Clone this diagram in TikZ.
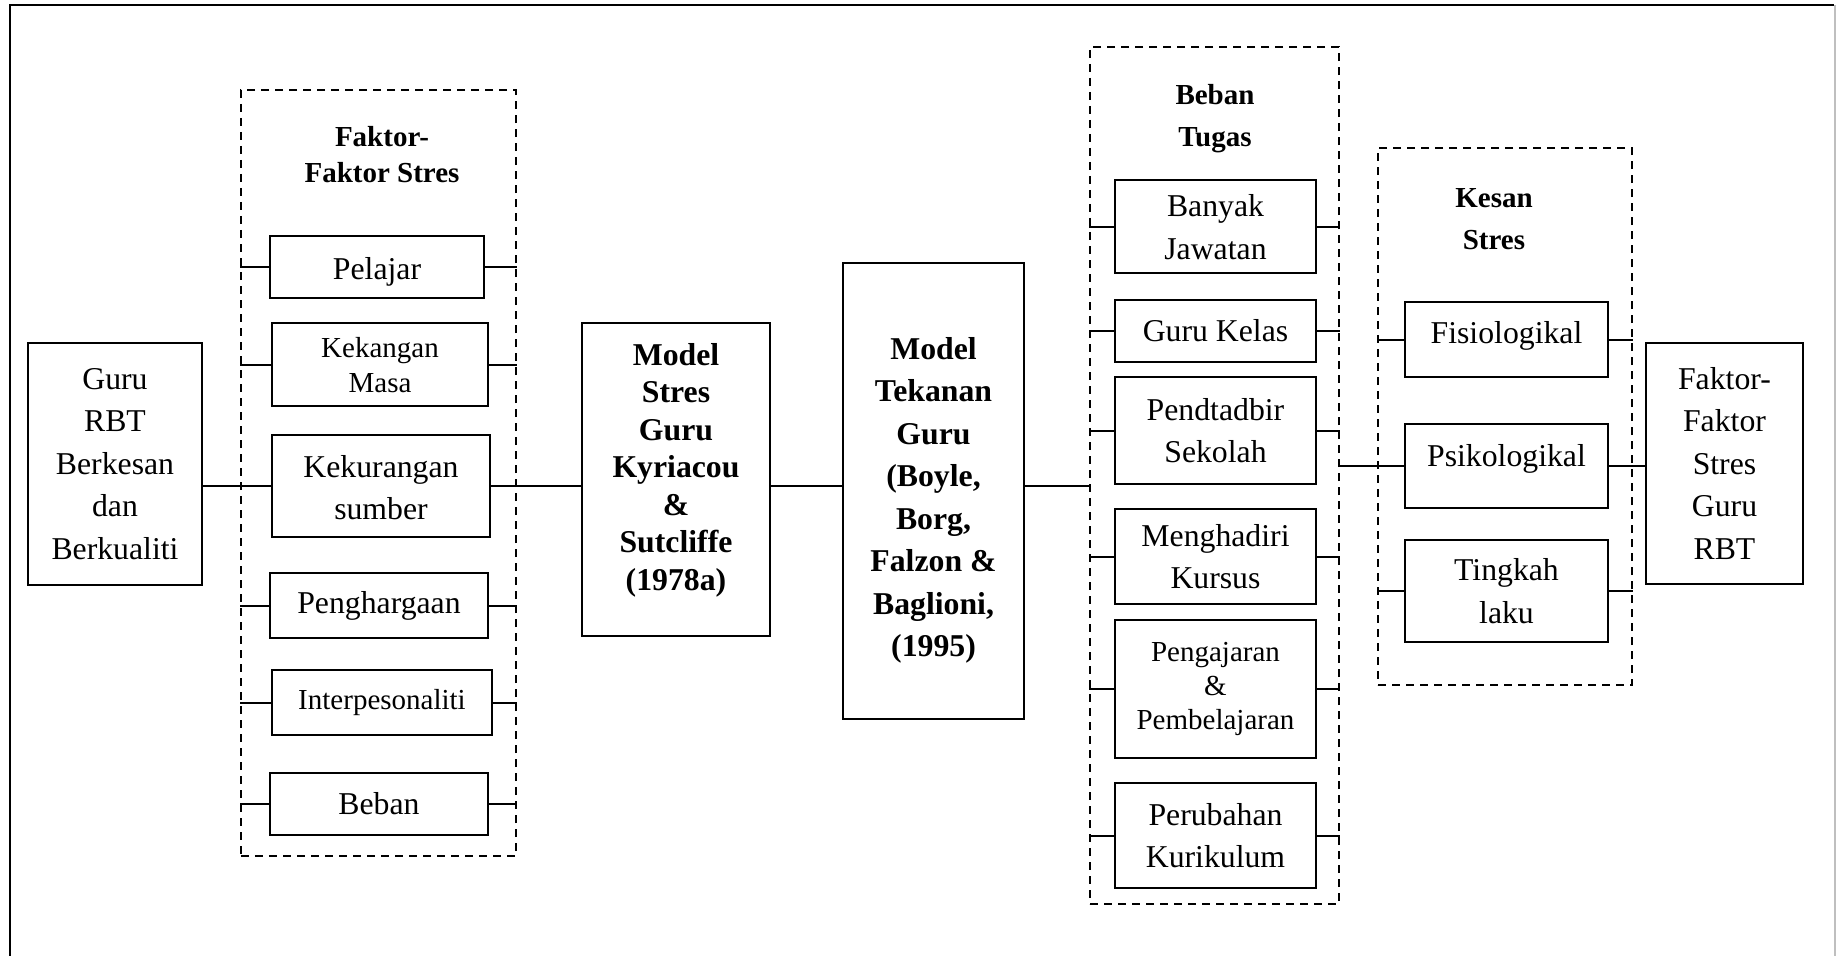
\documentclass[tikz,border=0pt]{standalone}
\usepackage{fontspec}
\setmainfont{Liberation Serif}
\newcommand{\shiftlines}[2]{\raisebox{#1}[\height][\depth]{\begin{tabular}{@{}c@{}}#2\end{tabular}}}
\tikzset{box/.style={draw, line width=0.8pt, align=center, inner sep=0pt,
        font=\fontsize{12.7}{17}\selectfont}}
\tikzset{sbox/.style={box, font=\fontsize{11.6}{14}\selectfont}}
\tikzset{mbox/.style={box, font=\fontsize{12.7}{17}\selectfont\bfseries}}
\tikzset{group/.style={draw, line width=0.5pt, dash pattern=on 3.2pt off 2.4pt, inner sep=0pt}}
\tikzset{title/.style={align=center, inner sep=0pt, font=\fontsize{11.6}{16.8}\selectfont\bfseries}}
\tikzset{edge/.style={line width=0.8pt}}

\begin{document}
\begin{tikzpicture}[x=0.4pt, y=-0.4pt]%{{{
        \useasboundingbox (0,0) rectangle (1836,955);
        \draw [line width=1pt] (10,965) -- (10,5) -- (1834,5);
        \draw [gray!50, line width=0.8pt] (1835,5) -- (1835,965);

        \node[box, minimum width=69.6pt, minimum height=96.8pt] (Gin) at (115, 464)
        {Guru\\RBT\\Berkesan\\dan\\Berkualiti};

        \node[group, minimum width=110pt, minimum height=306.4pt] (Dfak) at (378.5, 473) {};
        \node[title, font=\fontsize{11.6}{14.4}\selectfont\bfseries] (Tfak) at (382, 155) {Faktor-\\Faktor Stres};
        \node[box, minimum width=85.6pt, minimum height=24.8pt] (Fa) at (377, 267) {\shiftlines{-1.5pt}{Pelajar}};
        \node[sbox, minimum width=86.4pt, minimum height=33.2pt] (Fb) at (380, 364.5) {\shiftlines{-1.5pt}{Kekangan\\Masa}};
        \node[box, minimum width=87.2pt, minimum height=40.8pt] (Fc) at (381, 486) {\shiftlines{-1.5pt}{Kekurangan\\sumber}};
        \node[box, minimum width=87.2pt, minimum height=26pt] (Fd) at (379, 605.5) {Penghargaan};
        \node[sbox, minimum width=88pt, minimum height=26pt] (Fe) at (382, 702.5) {Interpesonaliti};
        \node[box, minimum width=87.2pt, minimum height=24.8pt] (Ff) at (379, 804) {Beban};

        \node[mbox, font=\fontsize{12.7}{15}\selectfont\bfseries, minimum width=75.2pt, minimum height=125.2pt] (Ms) at (676, 479.5)
        {\shiftlines{3.7pt}{Model\\Stres\\Guru\\Kyriacou\\\&\\Sutcliffe\\(1978a)}};
        \node[mbox, minimum width=72.4pt, minimum height=182.4pt] (Mt) at (933.5, 491)
        {\shiftlines{-3.4pt}{Model\\Tekanan\\Guru\\(Boyle,\\Borg,\\Falzon \&\\Baglioni,\\(1995)}};

        \node[group, minimum width=99.6pt, minimum height=342.8pt] (Dbeb) at (1214.5, 475.5) {};
        \node[title] (Tbeb) at (1215, 119) {Beban\\Tugas};
        \node[box, minimum width=80.4pt, minimum height=37.2pt] (Ba) at (1215.5, 226.5) {\shiftlines{-1.2pt}{Banyak\\Jawatan}};
        \node[box, minimum width=80.4pt, minimum height=24.8pt] (Bb) at (1215.5, 331) {Guru Kelas};
        \node[box, minimum width=80.4pt, minimum height=42.8pt] (Bc) at (1215.5, 430.5) {Pendtadbir\\Sekolah};
        \node[box, minimum width=80.4pt, minimum height=38pt] (Bd) at (1215.5, 556.5) {Menghadiri\\Kursus};
        \node[sbox, font=\fontsize{11.6}{13.6}\selectfont, minimum width=80.4pt, minimum height=55.2pt] (Be) at (1215.5, 689)
        {Pengajaran\\\&\\Pembelajaran};
        \node[box, minimum width=80.4pt, minimum height=42pt] (Bf) at (1215.5, 835.5) {Perubahan\\Kurikulum};

        \node[group, minimum width=101.6pt, minimum height=214.8pt] (Dkes) at (1505, 416.5) {};
        \node[title] (Tkes) at (1494, 219) {Kesan\\Stres};
        \node[box, minimum width=81.2pt, minimum height=30pt] (Ka) at (1506.5, 339.5) {\shiftlines{1.8pt}{Fisiologikal}};
        \node[box, minimum width=81.2pt, minimum height=33.6pt] (Kb) at (1506.5, 466) {\shiftlines{3.2pt}{Psikologikal}};
        \node[box, minimum width=81.2pt, minimum height=40.8pt] (Kc) at (1506.5, 591) {Tingkah\\laku};

        \node[box, minimum width=62.8pt, minimum height=96.4pt] (Gout) at (1724.5, 463.5)
        {Faktor-\\Faktor\\Stres\\Guru\\RBT};

        \foreach \n in {Fa, Fb, Fd, Fe, Ff} {
                \draw [edge] (\n.west -| Dfak.west) -- (\n.west);
                \draw [edge] (\n.east) -- (\n.east -| Dfak.east);
        }
        \foreach \n in {Ba, Bb, Bc, Bd, Be, Bf} {
                \draw [edge] (\n.west -| Dbeb.west) -- (\n.west);
                \draw [edge] (\n.east) -- (\n.east -| Dbeb.east);
        }
        \foreach \n in {Ka, Kc} {
                \draw [edge] (\n.west -| Dkes.west) -- (\n.west);
                \draw [edge] (\n.east) -- (\n.east -| Dkes.east);
        }

        \draw [edge] (Fc.west -| Gin.east) -- (Fc.west);
        \draw [edge] (Fc.east) -- (Fc.east -| Ms.west);
        \draw [edge] (Fc.east -| Ms.east) -- (Fc.east -| Mt.west);
        \draw [edge] (Fc.east -| Mt.east) -- (Fc.east -| Dbeb.west);
        \draw [edge] (Kb.west -| Dbeb.east) -- (Kb.west);
        \draw [edge] (Kb.east) -- (Kb.east -| Gout.west);

   \end{tikzpicture}
\end{document}
